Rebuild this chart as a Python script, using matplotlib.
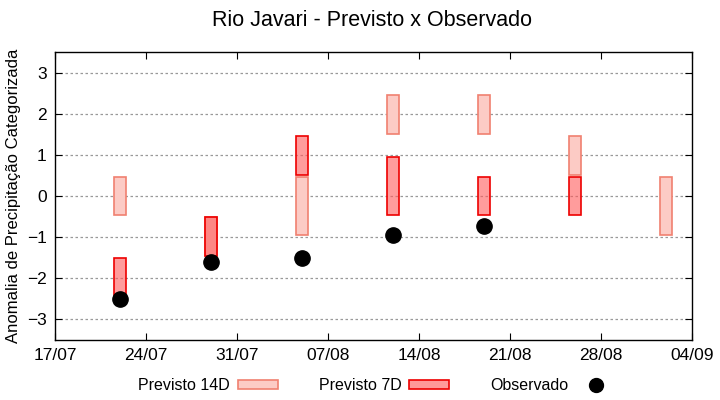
import pandas as pd
import matplotlib
matplotlib.use("Agg")
import matplotlib.pyplot as plt
import matplotlib.dates as mdates
from matplotlib.patches import Rectangle

plt.rcParams['font.family'] = ['Liberation Sans', 'DejaVu Sans']

# previsto 14 dias (min, max)
dates_14d = ['2023-07-22', '2023-07-29', '2023-08-05', '2023-08-12', '2023-08-19', '2023-08-26', '2023-09-02']
low_14d = [-0.45, -1.45, -0.95, 1.5, 1.5, 0.5, -0.95]
high_14d = [0.45, -0.5, 0.45, 2.45, 2.45, 1.45, 0.45]

# previsto 7 dias
dates_7d = ['2023-07-22', '2023-07-29', '2023-08-05', '2023-08-12', '2023-08-19', '2023-08-26']
low_7d = [-2.45, -1.45, 0.5, -0.45, -0.45, -0.45]
high_7d = [-1.5, -0.5, 1.45, 0.95, 0.45, 0.45]

# observado
dates_obs = ['2023-07-22', '2023-07-29', '2023-08-05', '2023-08-12', '2023-08-19']
obs = [-2.5, -1.6, -1.5, -0.95, -0.72]

xticks = pd.date_range('2023-07-17', '2023-09-04', freq='7D')

fig = plt.figure(figsize=(7.2, 4.0), dpi=100)
ax = fig.add_axes([0.0764, 0.15, 0.8846, 0.72])

w = 0.9
c14_face, c14_edge = '#fccbc5', '#f08070'
c7_face, c7_edge = '#ff5a5a', '#ee0000'

for d, lo, hi in zip(dates_14d, low_14d, high_14d):
    x = mdates.date2num(pd.Timestamp(d))
    ax.add_patch(Rectangle((x - w / 2, lo), w, hi - lo, facecolor=c14_face,
                           edgecolor=c14_edge, linewidth=1.2, zorder=2))
for d, lo, hi in zip(dates_7d, low_7d, high_7d):
    x = mdates.date2num(pd.Timestamp(d))
    ax.add_patch(Rectangle((x - w / 2, lo), w, hi - lo, facecolor=c7_face, alpha=0.6,
                           edgecolor='none', zorder=3))
    ax.add_patch(Rectangle((x - w / 2, lo), w, hi - lo, facecolor='none',
                           edgecolor=c7_edge, linewidth=1.2, zorder=3.1))

ax.plot(pd.to_datetime(dates_obs), obs, 'o', color='black', markersize=11, zorder=4)

ax.set_xlim(xticks[0], xticks[-1])
ax.set_ylim(-3.5, 3.5)
ax.set_xticks(xticks)
ax.xaxis.set_major_formatter(mdates.DateFormatter('%d/%m'))
ax.set_yticks([-3, -2, -1, 0, 1, 2, 3])
ax.tick_params(direction='in', top=True, right=True, labelsize=12.5, length=5, pad=6)
ax.grid(axis='y', linestyle=(0, (2, 2)), color='#999999', linewidth=0.9)
ax.set_axisbelow(True)
for s in ax.spines.values():
    s.set_linewidth(1.0)

ax.set_ylabel('Anomalia de Precipitação Categorizada', fontsize=12)
fig.suptitle('Rio Javari - Previsto x Observado', fontsize=15.5, x=0.517, y=0.975)

h14 = Rectangle((0, 0), 1, 1, facecolor=c14_face, edgecolor=c14_edge, linewidth=1.2)
h7 = Rectangle((0, 0), 1, 1, facecolor='#ff9999', edgecolor=c7_edge, linewidth=1.2)
hobs = plt.Line2D([], [], marker='o', color='black', linestyle='none', markersize=10)
fig.legend([h14, h7, hobs], ['Previsto 14D', 'Previsto 7D', 'Observado'],
           loc='center', bbox_to_anchor=(0.524, 0.035), ncol=3, frameon=False,
           markerfirst=False, fontsize=11.5, handlelength=2.5, handleheight=0.5,
           columnspacing=2.55, handletextpad=0.5)

fig.savefig('out.png', dpi=100)
